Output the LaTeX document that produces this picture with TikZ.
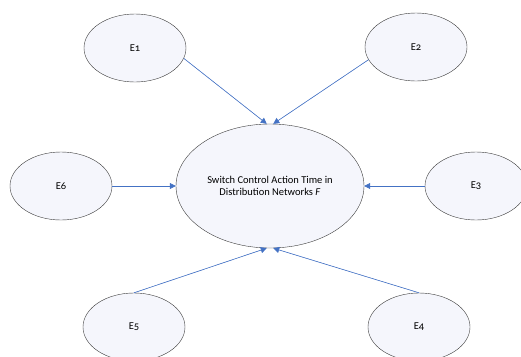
\documentclass[tikz,border=0pt]{standalone}
\usepackage{fontspec}
\setmainfont{Carlito}
\usetikzlibrary{arrows.meta,shapes.geometric}
\definecolor{fblue}{RGB}{68,114,196}
\definecolor{fedge}{RGB}{60,60,60}
\definecolor{ffill}{RGB}{245,246,252}
\tikzset{
  bub/.style={ellipse, draw=fedge, thin, fill=ffill, inner sep=0pt,
              minimum width=102pt, minimum height=68pt,
              font=\addfontfeatures{Numbers=OldStyle}\fontsize{10.5}{12.5}\selectfont},
  goalbub/.style={bub, minimum width=188pt, minimum height=124pt, align=center},
  arr/.style={-{Triangle[length=6pt,width=6pt]}, draw=fblue, fill=fblue, semithick}
}
\begin{document}
\begin{tikzpicture}[x=1pt,y=-1pt]
  \useasboundingbox (0,0) rectangle (521,356);
  \node[goalbub] (goal) at (270,186) {Switch Control Action Time in\\Distribution Networks \textit{F}};
  \node[bub] (e1) at (135,48) {E1};
  \node[bub] (e2) at (416,47) {E2};
  \node[bub] (e3) at (476,186) {E3};
  \node[bub] (e4) at (419,327) {E4};
  \node[bub] (e5) at (134,327) {E5};
  \node[bub] (e6) at (61,186) {E6};
  \draw[arr] (e1.-12) -- (goal.93);
  \draw[arr] (e2.195) -- (goal.87);
  \draw[arr] (e3.west) -- (goal.east);
  \draw[arr] (e4.north) -- (goal.-87);
  \draw[arr] (e5.north) -- (goal.-93);
  \draw[arr] (e6.east) -- (goal.west);
\end{tikzpicture}
\end{document}
